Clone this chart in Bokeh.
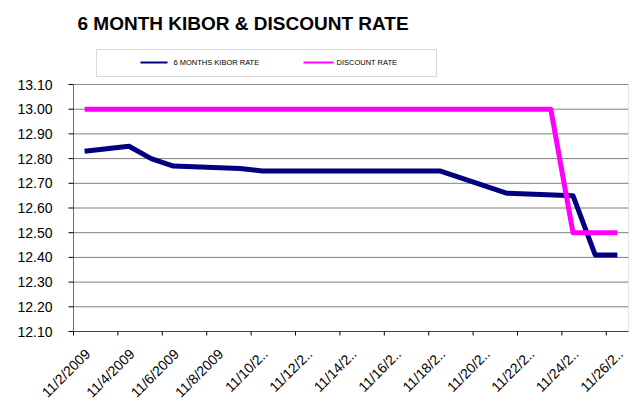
import math
from bokeh.plotting import figure
from bokeh.models import Label, BoxAnnotation, Range1d
from bokeh.embed import file_html
from bokeh.resources import INLINE

# ---- data (November 2009, day of month) ----
kibor_days = [2, 3, 4, 5, 6, 9, 10, 11, 12, 13, 16, 17, 18, 21, 24, 25, 26]
kibor_rate = [12.83, 12.84, 12.85, 12.80, 12.77, 12.76, 12.75, 12.75, 12.75, 12.75,
              12.75, 12.75, 12.75, 12.66, 12.65, 12.41, 12.41]
discount_days = [2, 9, 16, 23, 24, 25, 26]
discount_rate = [13.00, 13.00, 13.00, 13.00, 12.50, 12.50, 12.50]

tick_days = [2, 4, 6, 8, 10, 12, 14, 16, 18, 20, 22, 24, 26]
tick_labels = ["11/2/2009", "11/4/2009", "11/6/2009", "11/8/2009", "11/10/2..", "11/12/2..",
               "11/14/2..", "11/16/2..", "11/18/2..", "11/20/2..", "11/22/2..", "11/24/2..",
               "11/26/2.."]
y_ticks = [12.10, 12.20, 12.30, 12.40, 12.50, 12.60, 12.70, 12.80, 12.90, 13.00, 13.10]
y_tick_labels = ["12.10", "12.20", "12.30", "12.40", "12.50", "12.60", "12.70", "12.80",
                 "12.90", "13.00", "13.10"]

title_text = "6 MONTH KIBOR & DISCOUNT RATE"
kibor_name = "6 MONTHS KIBOR RATE"
discount_name = "DISCOUNT RATE"

FONT = "Liberation Sans"

# ---- layout (pixels) ----
W, H = 636, 400
PLOT_LEFT, PLOT_RIGHT = 73, 628          # pixel columns of the plot area edges
AXIS_TOP, AXIS_BOTTOM = 84, 331          # pixel rows of 13.10 and 12.10
x_lo, x_hi = 1.5, 26.5
y_lo, y_hi = y_ticks[0], y_ticks[-1]
upx = (x_hi - x_lo) / (PLOT_RIGHT - PLOT_LEFT)   # data units per pixel, x
upy = (y_hi - y_lo) / (AXIS_BOTTOM - AXIS_TOP)   # data units per pixel, y
# the frame covers the whole canvas; axes, title and legend are drawn inside it
x_range = Range1d(x_lo - PLOT_LEFT * upx, x_hi + (W - PLOT_RIGHT) * upx)
y_range = Range1d(y_lo - (H - AXIS_BOTTOM) * upy, y_hi + AXIS_TOP * upy)

p = figure(width=W, height=H, output_backend="svg", toolbar_location=None,
           x_range=x_range, y_range=y_range,
           x_axis_location=None, y_axis_location=None,
           min_border_left=0, min_border_right=0, min_border_top=0, min_border_bottom=0)

p.background_fill_color = "white"
p.border_fill_color = "white"
p.outline_line_color = None
p.grid.visible = False

n_y = len(y_ticks)
n_x = len(tick_days)

# horizontal gridlines
p.segment(x0=[x_lo] * n_y, y0=y_ticks, x1=[x_hi] * n_y, y1=y_ticks,
          line_color="#808080", line_width=1)

# plot-area outline, y axis line, x axis line
p.add_layout(BoxAnnotation(left=x_lo, right=x_hi, bottom=y_lo, top=y_hi,
                           fill_alpha=0, line_color="#a8a8a8", line_width=1))
p.add_layout(BoxAnnotation(left=x_lo, right=x_lo, bottom=y_lo, top=y_hi,
                           fill_alpha=0, line_color="black", line_width=1))
p.add_layout(BoxAnnotation(left=x_lo, right=x_hi, bottom=y_lo, top=y_lo,
                           fill_alpha=0, line_color="black", line_width=1))

# y axis ticks and labels
p.segment(x0=[x_lo - 5 * upx] * n_y, y0=y_ticks, x1=[x_lo] * n_y, y1=y_ticks,
          line_color="black", line_width=1)
p.text(x=[x_lo] * n_y, y=y_ticks, text=y_tick_labels, x_offset=-21,
       text_align="right", text_baseline="middle",
       text_font={"value": FONT}, text_font_size={"value": "14px"}, text_color="black")

# date-axis tick marks between days, and rotated date labels
bounds = [d - 0.5 for d in tick_days]
p.segment(x0=bounds, y0=[y_lo] * n_x, x1=bounds, y1=[y_lo - 4 * upy] * n_x,
          line_color="black", line_width=1)
p.text(x=tick_days, y=[y_lo] * n_x, text=tick_labels, angle=math.pi / 4,
       text_align="right", text_baseline="middle", x_offset=3, y_offset=20,
       text_font={"value": FONT}, text_font_size={"value": "14px"}, text_color="black")

# series
p.line(kibor_days, kibor_rate, line_color="#000080", line_width=5, line_join="round")
p.line(discount_days, discount_rate, line_color="#FF00FF", line_width=5, line_join="round")

# screen coords: x from canvas left, y up from canvas bottom
def sy(py):
    return H - py

# title
p.add_layout(Label(x=77, y=sy(22.5), x_units="screen", y_units="screen",
                   text=title_text, text_font=FONT,
                   text_font_size="19px", text_font_style="bold",
                   text_baseline="middle", text_color="black"))

# legend (drawn by hand, like the spreadsheet's legend box)
def box(l, r, t, b, **kw):
    return BoxAnnotation(left=l, right=r, bottom=sy(b), top=sy(t),
                         left_units="screen", right_units="screen",
                         bottom_units="screen", top_units="screen", **kw)

p.add_layout(box(96, 436, 49, 76, fill_alpha=0, line_color="#808080", line_width=1))
p.add_layout(box(140, 167, 61, 63, fill_color="#000080", fill_alpha=1, line_alpha=0))
p.add_layout(box(303, 333, 61, 63, fill_color="#FF00FF", fill_alpha=1, line_alpha=0))
p.add_layout(Label(x=173, y=sy(62), x_units="screen", y_units="screen",
                   text=kibor_name, text_font=FONT, text_font_size="7.5px",
                   text_baseline="middle", text_color="black"))
p.add_layout(Label(x=336, y=sy(62), x_units="screen", y_units="screen",
                   text=discount_name, text_font=FONT, text_font_size="7.5px",
                   text_baseline="middle", text_color="black"))

open("out.html", "w").write(file_html(p, INLINE))
